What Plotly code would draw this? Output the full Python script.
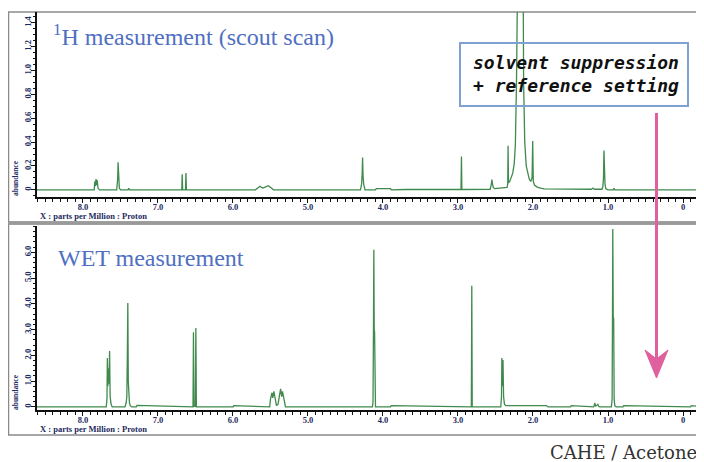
import plotly.graph_objects as go

# ---------------- data ----------------
# Top panel: 1H scout scan (ppm, abundance)
scout_ppm = [8.62, 7.85, 7.843, 7.835, 7.826, 7.818, 7.81, 7.80, 7.78, 7.55, 7.543, 7.537, 7.532, 7.526,
             7.515, 7.50, 7.40, 7.39, 7.38, 6.683, 6.677, 6.671, 6.633, 6.627, 6.621, 5.70, 5.67, 5.66, 5.64,
             5.62, 5.60, 5.58, 5.53, 5.51, 5.49, 5.46, 4.30, 4.285, 4.278, 4.272, 4.266, 4.258, 4.24, 4.10,
             4.09, 3.90, 3.89, 3.70, 2.96, 2.954, 2.948, 2.57, 2.555, 2.548, 2.54, 2.53, 2.51, 2.345, 2.337,
             2.332, 2.327, 2.31, 2.29, 2.27, 2.25, 2.235, 2.22, 2.21, 2.20, 2.19, 2.18, 2.17, 2.16, 2.15,
             2.14, 2.125, 2.11, 2.09, 2.07, 2.05, 2.03, 2.012, 2.004, 1.996, 1.98, 1.95, 1.90, 1.85, 1.22,
             1.20, 1.18, 1.08, 1.068, 1.06, 1.054, 1.048, 1.04, 1.03, 1.00, 0.93, 0.92, 0.91, -0.30]
scout_int = [0.0, 0.0, 0.07, 0.03, 0.09, 0.04, 0.08, 0.015, 0.0, 0.0, 0.05, 0.1, 0.23, 0.05,
             0.015, 0.0, 0.0, 0.012, 0.0, 0.0, 0.13, 0.0, 0.0, 0.14, 0.0, 0.0, 0.015, 0.025, 0.03,
             0.02, 0.015, 0.02, 0.035, 0.025, 0.015, 0.0, 0.0, 0.05, 0.13, 0.27, 0.12, 0.05, 0.0, 0.0,
             0.01, 0.01, 0.0, 0.003, 0.003, 0.28, 0.003, 0.005, 0.05, 0.085, 0.05, 0.02, 0.01, 0.02, 0.05,
             0.37, 0.06, 0.07, 0.1, 0.14, 0.22, 0.38, 0.9, 3.0, 5.0, 3.5, 2.6, 2.4, 3.2, 5.0,
             3.0, 0.9, 0.4, 0.2, 0.13, 0.09, 0.07, 0.1, 0.41, 0.07, 0.04, 0.025, 0.015, 0.008, 0.005,
             0.015, 0.005, 0.005, 0.03, 0.1, 0.33, 0.15, 0.05, 0.01, 0.0, 0.0, 0.012, 0.0, 0.0]

# Bottom panel: WET measurement (ppm, abundance)
wet_ppm = [8.62, 7.69, 7.68, 7.675, 7.668, 7.66, 7.652, 7.645, 7.638, 7.625, 7.61, 7.44, 7.425, 7.415,
           7.408, 7.402, 7.396, 7.39, 7.38, 7.37, 7.35, 7.29, 7.28, 6.533, 6.527, 6.52, 6.502,
           6.495, 6.488, 6.00, 5.99, 5.51, 5.50, 5.48, 5.47, 5.455, 5.44, 5.42, 5.40, 5.38, 5.365,
           5.35, 5.34, 5.32, 5.30, 4.14, 4.133, 4.127, 4.122, 4.117, 4.112, 4.106, 4.10, 3.90, 3.89,
           2.822, 2.816, 2.81, 2.43, 2.42, 2.415, 2.408, 2.40, 2.392, 2.38, 2.36, 2.28, 1.82, 1.80,
           1.50, 1.49, 1.19, 1.175, 1.165, 1.155, 1.135, 1.125, 1.11, 0.955, 0.945, 0.94, 0.936,
           0.930, 0.924, 0.918, 0.91, 0.89, 0.80, 0.79, -0.10, -0.11, -0.30]
wet_int = [0.0, 0.0, 0.3, 1.9, 0.8, 1.5, 0.9, 2.17, 0.4, 0.1, 0.0, 0.0, 0.15, 0.4,
           2.2, 4.03, 1.0, 0.4, 0.15, 0.05, 0.0, 0.0, 0.06, 0.0, 2.9, 0.02, 0.02,
           3.06, 0.0, 0.0, 0.05, 0.0, 0.3, 0.55, 0.35, 0.6, 0.3, 0.05, 0.1, 0.45, 0.7,
           0.4, 0.6, 0.3, 0.0, 0.0, 0.2, 3.0, 6.1, 3.0, 2.9, 0.2, 0.0, 0.0, 0.05,
           0.0, 4.7, 0.0, 0.0, 0.4, 1.9, 0.8, 1.82, 0.4, 0.1, 0.05, 0.05, 0.05, 0.0,
           0.0, 0.05, 0.0, 0.15, 0.02, 0.05, 0.1, 0.02, 0.0, 0.0, 0.3, 3.55, 6.9,
           3.5, 3.4, 0.3, 0.05, 0.0, 0.0, 0.05, 0.0, 0.05, 0.0]

x_tick_vals = [8, 7, 6, 5, 4, 3, 2, 1, 0]
x_tick_text = ["8.0", "7.0", "6.0", "5.0", "4.0", "3.0", "2.0", "1.0", "0"]
top_y_vals = [0, 0.2, 0.4, 0.6, 0.8, 1.0, 1.2, 1.4]
top_y_text = ["0", "0.2", "0.4", "0.6", "0.8", "1.0", "1.2", "1.4"]
bot_y_vals = [0, 1, 2, 3, 4, 5, 6]
bot_y_text = ["0", "1.0", "2.0", "3.0", "4.0", "5.0", "6.0"]

# ---------------- layout helpers ----------------
# page has an 8px body margin, so the figure is placed at (8, 8) in the window
OFF = 8
W, H = 696, 454
def PX(x):
    return (x - OFF) / W
def PY(y):
    return 1 - (y - OFF) / H

GREEN = "#3f8a4c"
NAVY = "#1c2a5e"
PINK = "#e0609e"
TFONT = dict(family="Liberation Serif", size=8.5, color=NAVY, weight="bold")

fig = go.Figure()
fig.add_trace(go.Scatter(x=scout_ppm, y=scout_int, mode="lines", xaxis="x", yaxis="y",
                         line=dict(color=GREEN, width=1.3), hoverinfo="skip", showlegend=False))
fig.add_trace(go.Scatter(x=wet_ppm, y=wet_int, mode="lines", xaxis="x2", yaxis="y2",
                         line=dict(color=GREEN, width=1.3), hoverinfo="skip", showlegend=False))

xr = [8.613, -0.28]
common_x = dict(range=xr, domain=[PX(37), 1.0], showgrid=False, zeroline=False,
                showline=True, linecolor="#111", linewidth=1.5, ticks="outside",
                ticklen=4, tickwidth=1.2, tickcolor="#111", tickfont=TFONT,
                tickvals=x_tick_vals, ticktext=x_tick_text, ticklabelstandoff=-3,
                minor=dict(dtick=0.1, tick0=0, ticks="outside", ticklen=3, tickcolor="#111", tickwidth=1),
                fixedrange=True)
common_y = dict(showgrid=False, zeroline=False, showline=True, linecolor="#111", linewidth=1.5,
                ticks="outside", ticklen=4, tickwidth=1.2, tickcolor="#111", tickfont=TFONT,
                tickangle=-90, ticklabelstandoff=-3, fixedrange=True)

fig.update_layout(
    width=W, height=H, margin=dict(l=0, r=0, t=0, b=0),
    paper_bgcolor="white", plot_bgcolor="white",
    xaxis=dict(common_x, anchor="y"),
    yaxis=dict(common_y, anchor="x", domain=[PY(197), PY(12)], range=[-0.06, 1.49],
               tickvals=top_y_vals, ticktext=top_y_text,
               minor=dict(dtick=0.05, tick0=0, ticks="outside", ticklen=2, tickcolor="#111")),
    xaxis2=dict(common_x, anchor="y2"),
    yaxis2=dict(common_y, anchor="x2", domain=[PY(410), PY(226)], range=[-0.12, 7.02],
                tickvals=bot_y_vals, ticktext=bot_y_text,
                minor=dict(dtick=0.2, tick0=0, ticks="outside", ticklen=2, tickcolor="#111")),
)

shapes = []
# panel frames
shapes.append(dict(type="rect", xref="paper", yref="paper", x0=PX(8.5), x1=PX(712), y0=PY(222), y1=PY(12),
                   line=dict(color="#8a8a8a", width=1.5), layer="below"))
shapes.append(dict(type="rect", xref="paper", yref="paper", x0=PX(8.5), x1=PX(712), y0=PY(435), y1=PY(224),
                   line=dict(color="#8a8a8a", width=1.5), layer="below"))
shapes.append(dict(type="line", xref="paper", yref="paper", x0=PX(8), x1=PX(712), y0=PY(223), y1=PY(223),
                   line=dict(color="#9a9a9a", width=3)))
# annotation box
shapes.append(dict(type="rect", xref="paper", yref="paper", x0=PX(460), x1=PX(688), y0=PY(106), y1=PY(43),
                   line=dict(color="#7fa0d2", width=2), fillcolor="rgba(255,255,255,0)"))
# pink arrow
shapes.append(dict(type="line", xref="paper", yref="paper", x0=PX(656.5), x1=PX(656.5), y0=PY(113), y1=PY(360),
                   line=dict(color=PINK, width=3)))
ax = [645, 656.5, 668, 656.5]
ay = [350, 359, 350, 378]
path = "M {} {} L {} {} L {} {} L {} {} Z".format(*[v for p in zip([PX(a) for a in ax], [PY(b) for b in ay]) for v in p])
shapes.append(dict(type="path", xref="paper", yref="paper", path=path, fillcolor=PINK, line=dict(color=PINK, width=1)))
fig.update_layout(shapes=shapes)

ann = []
ann.append(dict(text="<sup>1</sup>H measurement (scout scan)", x=PX(51), y=PY(35), xref="paper", yref="paper",
                xanchor="left", yanchor="middle", showarrow=False,
                font=dict(family="Liberation Serif", size=24, color="#4f6fc2")))
ann.append(dict(text="WET measurement", x=PX(56), y=PY(258), xref="paper", yref="paper",
                xanchor="left", yanchor="middle", showarrow=False,
                font=dict(family="Liberation Serif", size=24, color="#4f6fc2")))
ann.append(dict(text="<b><i>solvent suppression<br>+ reference setting</i></b>", x=PX(576), y=PY(74),
                xref="paper", yref="paper", xanchor="center", yanchor="middle", showarrow=False, align="left",
                font=dict(family="DejaVu Sans Mono", size=18, color="#111")))
ann.append(dict(text="CAHE / Acetone", x=PX(699), y=PY(452), xref="paper", yref="paper",
                xanchor="right", yanchor="middle", showarrow=False,
                font=dict(family="DejaVu Serif", size=18, color="#333")))
for yc in (216, 429):
    ann.append(dict(text="X : parts per Million : Proton", x=PX(38), y=PY(yc), xref="paper", yref="paper",
                    xanchor="left", yanchor="middle", showarrow=False,
                    font=dict(family="Liberation Serif", size=8.5, color=NAVY, weight="bold")))
for yc in (178, 392):
    ann.append(dict(text="abundance", x=PX(15), y=PY(yc), xref="paper", yref="paper", textangle=-90,
                    xanchor="center", yanchor="middle", showarrow=False,
                    font=dict(family="Liberation Serif", size=7.5, color=NAVY, weight="bold")))
fig.update_layout(annotations=ann)

fig.write_html("out.html")
